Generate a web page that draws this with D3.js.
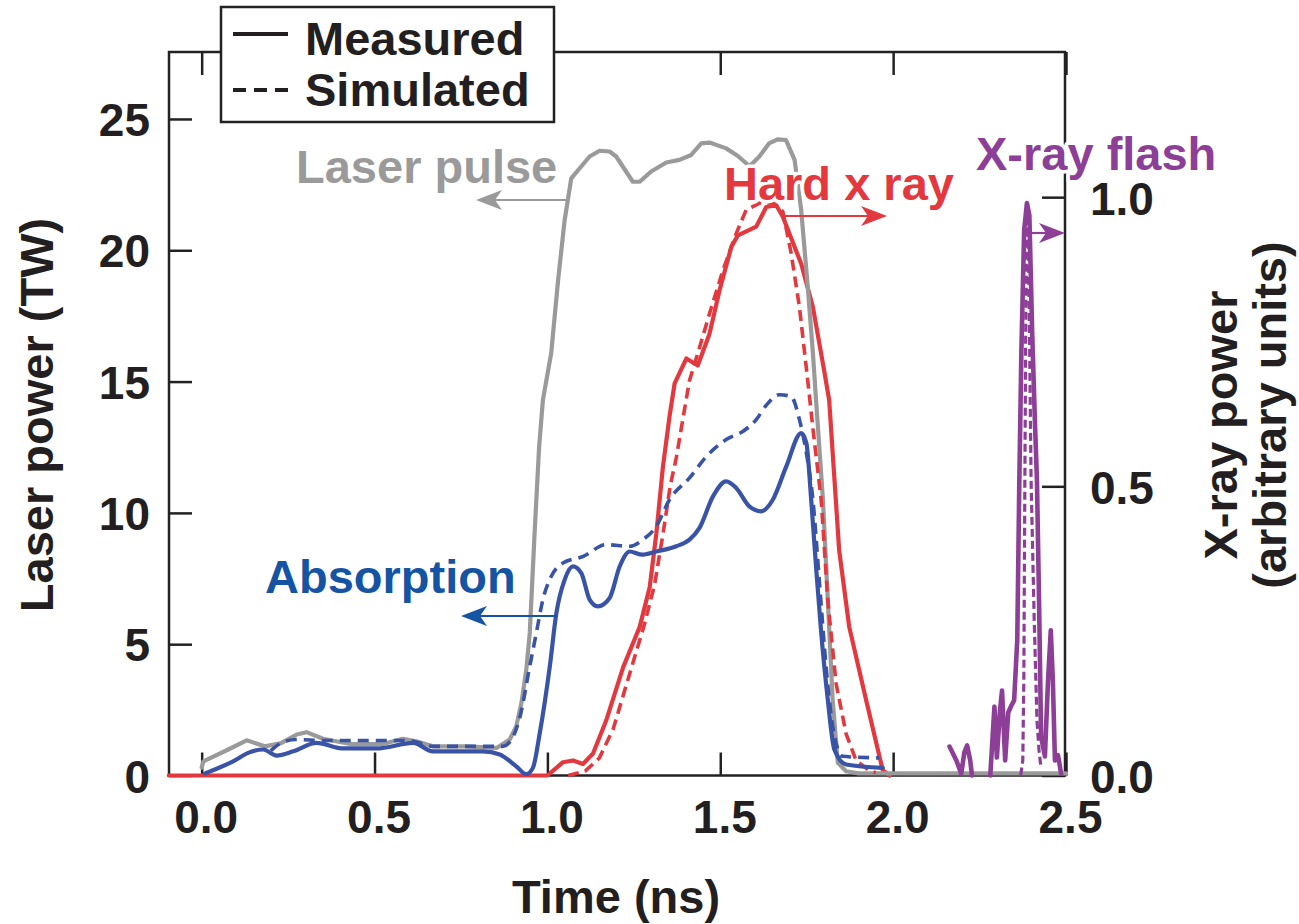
<!DOCTYPE html>
<html>
<head>
<meta charset="utf-8">
<script src="https://cdn.jsdelivr.net/npm/d3@7"></script>
<style>
  html, body { margin: 0; padding: 0; background: #fff; }
  svg { display: block; }
  text { font-family: "Liberation Sans", Arial, Helvetica, sans-serif; font-weight: bold; }
</style>
</head>
<body>
<svg id="chart" width="1299" height="924"></svg>
<script>
// ---------------- DATA ----------------
const xTickValues = [0, 0.5, 1.0, 1.5, 2.0, 2.5];
const leftTickValues = [0, 5, 10, 15, 20, 25];
const rightTickValues = [0, 0.5, 1.0];

// Laser pulse, measured (TW) [time ns, power]
const laserMeasured = [
  [0.0,0.3],[0.005,0.54],[0.077,0.99],[0.13,1.34],[0.183,1.11],[0.231,1.24],[0.275,1.56],[0.303,1.65],
  [0.351,1.40],[0.43,1.2],[0.524,1.2],[0.582,1.40],[0.62,1.3],[0.669,1.11],[0.766,1.11],[0.853,1.05],
  [0.891,1.37],[0.91,1.88],[0.925,2.77],[0.939,4.03],[0.949,5.43],[0.963,9.24],[0.976,12.5],[0.987,14.3],
  [1.011,16.08],[1.031,18.87],[1.05,21.16],[1.069,22.74],[1.122,23.57],[1.151,23.79],[1.18,23.76],
  [1.199,23.57],[1.247,22.61],[1.267,22.61],[1.30,23.0],[1.344,23.34],[1.382,23.44],[1.416,23.63],
  [1.445,24.07],[1.469,24.1],[1.517,23.88],[1.55,23.6],[1.585,23.2],[1.613,23.57],[1.641,24.07],
  [1.666,24.22],[1.69,24.2],[1.715,23.44],[1.734,21.54],[1.753,18.62],[1.768,16.08],[1.777,14.3],
  [1.797,10.5],[1.811,6.7],[1.825,2.89],[1.84,0.48],[1.864,0.16],[1.9,0.08],[2.5,0.08]
];

// Absorption, measured (TW)
const absorptionMeasured = [
  [0.01,0.08],[0.091,0.54],[0.14,0.89],[0.178,0.99],[0.217,0.76],[0.265,0.92],[0.332,1.24],[0.41,1.03],
  [0.506,1.03],[0.612,1.24],[0.669,0.92],[0.814,0.92],[0.862,0.8],[0.91,0.35],[0.939,0.05],[0.958,0.29],
  [0.978,1.62],[1.007,4.16],[1.026,6.19],[1.05,7.46],[1.074,7.96],[1.098,7.71],[1.122,6.7],[1.146,6.44],
  [1.18,6.76],[1.209,7.96],[1.238,8.53],[1.272,8.41],[1.315,8.53],[1.373,8.73],[1.411,8.98],[1.44,9.43],
  [1.479,10.63],[1.517,11.2],[1.546,10.95],[1.584,10.25],[1.618,10.06],[1.652,10.5],[1.691,11.77],
  [1.734,13.04],[1.749,12.66],[1.763,10.5],[1.777,7.96],[1.792,5.43],[1.811,2.89],[1.83,0.99],
  [1.864,0.42],[1.97,0.29]
];

// Absorption, simulated (TW)
const absorptionSimulated = [
  [0.2,0.95],[0.24,1.3],[0.275,1.37],[0.35,1.33],[0.6,1.33],[0.64,1.2],[0.669,1.11],[0.87,1.11],
  [0.896,1.37],[0.92,2.2],[0.949,4.16],[0.968,5.43],[0.987,6.7],[1.011,7.58],[1.045,8.09],[1.103,8.34],
  [1.17,8.79],[1.238,8.73],[1.276,8.98],[1.315,9.49],[1.353,10.5],[1.411,11.33],[1.46,12.15],
  [1.517,12.79],[1.565,13.1],[1.604,13.55],[1.633,14.1],[1.671,14.5],[1.705,14.43],[1.729,13.55],
  [1.749,12.28],[1.768,10.5],[1.787,7.33],[1.806,4.16],[1.825,1.88],[1.854,0.73],[1.96,0.67]
];

// Hard x ray, measured (arb. units, right axis)
const hardXrayMeasured = [
  [-0.095,0],[1.0,0],[1.02,0.01],[1.045,0.023],[1.074,0.026],[1.103,0.02],[1.132,0.038],[1.17,0.095],
  [1.219,0.187],[1.267,0.257],[1.296,0.326],[1.315,0.418],[1.334,0.533],[1.353,0.62],[1.368,0.678],
  [1.402,0.721],[1.435,0.709],[1.469,0.764],[1.498,0.839],[1.532,0.914],[1.551,0.934],[1.604,0.949],
  [1.633,0.983],[1.662,0.986],[1.681,0.966],[1.734,0.885],[1.768,0.81],[1.802,0.695],[1.815,0.649],
  [1.844,0.389],[1.873,0.257],[1.922,0.13],[1.97,0.009],[1.99,0]
];

// Hard x ray, simulated
const hardXraySimulated = [
  [1.06,0],[1.11,0.008],[1.15,0.03],[1.19,0.08],[1.235,0.17],[1.28,0.26],[1.31,0.33],[1.335,0.42],
  [1.355,0.5],[1.373,0.55],[1.39,0.61],[1.411,0.683],[1.44,0.74],[1.469,0.799],[1.508,0.874],
  [1.546,0.937],[1.575,0.978],[1.615,0.99],[1.655,0.99],[1.681,0.975],[1.705,0.903],[1.729,0.81],
  [1.753,0.683],[1.768,0.6],[1.792,0.476],[1.811,0.303],[1.835,0.159],[1.864,0.072],[1.893,0.026],
  [1.93,0.009],[1.95,0.005]
];

// X-ray flash, measured (null = gap in the trace)
const flashMeasured = [
  [2.163,0.05],[2.183,0.026],[2.197,0.003],[2.206,0.04],[2.214,0.052],[2.223,0.026],[2.228,0],
  null,
  [2.281,0],[2.293,0.119],[2.30,0.031],[2.309,0.112],[2.315,0.147],[2.324,0.026],[2.333,0.109],
  [2.342,0.121],[2.35,0.13],[2.359,0.234],[2.365,0.51],[2.371,0.735],[2.379,0.943],[2.387,0.99],
  [2.394,0.969],[2.402,0.77],[2.41,0.614],[2.416,0.51],[2.422,0.303],[2.428,0.067],[2.439,0.033],
  [2.448,0.164],[2.456,0.251],[2.462,0.164],[2.468,0.026],[2.477,0.035],[2.486,0.003]
];

// X-ray flash, simulated
const flashSimulated = [
  [2.369,0],[2.375,0.026],[2.378,0.164],[2.381,0.51],[2.384,0.82],[2.388,0.96],[2.392,0.9],
  [2.395,0.735],[2.399,0.51],[2.408,0.27],[2.416,0.095],[2.422,0.043],[2.428,0.012]
];

// ---------------- LAYOUT ----------------
const svg = d3.select("#chart");
const L = 169, R = 1065, T = 52, B = 775.5;
const FONT = "Liberation Sans, Arial, Helvetica, sans-serif";

const x = d3.scaleLinear().domain([-0.0945, 2.5]).range([L, 1066]);
const yL = d3.scaleLinear().domain([0, 27.55]).range([B, T]);
const yR = d3.scaleLinear().domain([0, 1.251]).range([B, T]);

const colors = {
  gray: "#9a9a9a",
  blue: "#3953a6",
  blueText: "#1554a2",
  red: "#e4383f",
  purple: "#8d3f97"
};

// ---------------- AXES ----------------
function styleAxis(g) {
  g.select(".domain").remove();
  g.selectAll(".tick line").attr("stroke", "#222").attr("stroke-width", 2.5);
  g.selectAll(".tick text").attr("fill", "#231f20")
    .style("font-family", FONT).style("font-weight", "bold").style("font-size", "46px");
}

const xAxis = svg.append("g").attr("transform", `translate(0,${B})`)
  .call(d3.axisBottom(x).tickValues(xTickValues).tickSize(-23).tickFormat(d3.format(".1f")));
styleAxis(xAxis);
xAxis.selectAll(".tick text").attr("y", 0).attr("dy", null).attr("dx", 4)
  .attr("transform", "translate(0,57)");

const xTop = svg.append("g").attr("transform", `translate(0,${T})`)
  .call(d3.axisTop(x).tickValues(xTickValues).tickSize(-23).tickFormat(""));
styleAxis(xTop);

const leftAxis = svg.append("g").attr("transform", `translate(${L},0)`)
  .call(d3.axisLeft(yL).tickValues(leftTickValues).tickSize(-23).tickFormat(d3.format("d")));
styleAxis(leftAxis);
leftAxis.selectAll(".tick text").attr("x", -19).attr("dy", "0.36em");

const rightAxis = svg.append("g").attr("transform", `translate(${R},0)`)
  .call(d3.axisRight(yR).tickValues(rightTickValues).tickSize(-23).tickFormat(d3.format(".1f")));
styleAxis(rightAxis);
rightAxis.selectAll(".tick text").attr("x", 25).attr("dy", "0.38em");

// frame
svg.append("rect").attr("x", L).attr("y", T).attr("width", R - L).attr("height", B - T)
  .attr("fill", "none").attr("stroke", "#222").attr("stroke-width", 2.5);

// ---------------- CURVES ----------------
function drawLine(data, yScale, color, dash, width, curve) {
  const line = d3.line().defined(d => d != null)
    .x(d => x(d[0])).y(d => yScale(d[1])).curve(curve || d3.curveLinear);
  svg.append("path").datum(data).attr("d", line)
    .attr("fill", "none").attr("stroke", color).attr("stroke-width", width)
    .attr("stroke-linejoin", "round").attr("stroke-linecap", dash ? "butt" : "round")
    .attr("stroke-dasharray", dash || null);
}

drawLine(hardXrayMeasured, yR, colors.red, null, 4.2);
drawLine(laserMeasured, yL, colors.gray, null, 4.2);
drawLine(hardXraySimulated, yR, colors.red, "11,6", 3.6);
drawLine(absorptionSimulated, yL, colors.blue, "11,7", 3.6, d3.curveMonotoneX);
drawLine(absorptionMeasured, yL, colors.blue, null, 4.2, d3.curveMonotoneX);
drawLine(flashMeasured, yR, colors.purple, null, 4.6);
drawLine(flashSimulated, yR, colors.purple, "8,4", 3.2);

// ---------------- ANNOTATIONS ----------------
function label(txt, xp, yp, color) {
  svg.append("text").attr("x", xp).attr("y", yp).text(txt)
    .attr("fill", color).style("font-size", "47px")
    .attr("stroke", "#fff").attr("stroke-width", 7).attr("stroke-linejoin", "round")
    .style("paint-order", "stroke");
}
function arrow(x1, x2, yp, color) {
  svg.append("line").attr("x1", x1).attr("x2", x2 + Math.sign(x1 - x2) * 14)
    .attr("y1", yp).attr("y2", yp).attr("stroke", color).attr("stroke-width", 2.2);
  const dir = Math.sign(x2 - x1);
  const p = [[x2, yp], [x2 - dir * 26, yp - 10], [x2 - dir * 19, yp], [x2 - dir * 26, yp + 10]];
  svg.append("path").attr("d", "M" + p.map(q => q.join(",")).join("L") + "Z").attr("fill", color);
}

label("Laser pulse", 296, 183, colors.gray);
arrow(568, 476, 200, colors.gray);
label("Hard x ray", 724, 200, colors.red);
arrow(783, 887, 216, colors.red);
label("X-ray flash", 976, 170, colors.purple);
arrow(1031, 1065, 233, colors.purple);
label("Absorption", 265, 593, colors.blueText);
arrow(556, 461, 616, colors.blueText);

// ---------------- TITLES ----------------
svg.append("text").attr("transform", "translate(616,913)").attr("text-anchor", "middle")
  .attr("fill", "#231f20").style("font-size", "47px").text("Time (ns)");
svg.append("text").attr("transform", "translate(53,415) rotate(-90)").attr("text-anchor", "middle")
  .attr("fill", "#231f20").style("font-size", "47px").text("Laser power (TW)");
svg.append("text").attr("transform", "translate(1237,425) rotate(-90)").attr("text-anchor", "middle")
  .attr("fill", "#231f20").style("font-size", "47px").text("X-ray power");
svg.append("text").attr("transform", "translate(1286,415) rotate(-90)").attr("text-anchor", "middle")
  .attr("fill", "#231f20").style("font-size", "47px").text("(arbitrary units)");

// ---------------- LEGEND ----------------
const lg = svg.append("g");
lg.append("rect").attr("x", 221).attr("y", 7).attr("width", 333).attr("height", 115)
  .attr("fill", "#fff").attr("stroke", "#222").attr("stroke-width", 2.5);
lg.append("line").attr("x1", 233).attr("x2", 288).attr("y1", 34).attr("y2", 34)
  .attr("stroke", "#231f20").attr("stroke-width", 4);
lg.append("line").attr("x1", 233).attr("x2", 288).attr("y1", 90).attr("y2", 90)
  .attr("stroke", "#231f20").attr("stroke-width", 4).attr("stroke-dasharray", "13,8");
lg.append("text").attr("x", 305).attr("y", 55).attr("fill", "#231f20").style("font-size", "47px").text("Measured");
lg.append("text").attr("x", 305).attr("y", 106).attr("fill", "#231f20").style("font-size", "47px").text("Simulated");
</script>
</body>
</html>
